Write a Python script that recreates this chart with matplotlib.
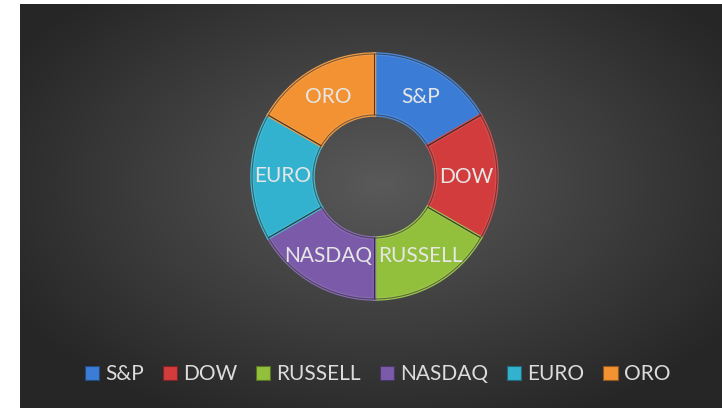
import numpy as np
import matplotlib.pyplot as plt
from matplotlib.colors import to_rgb

labels = ['S&P', 'DOW', 'RUSSELL', 'NASDAQ', 'EURO', 'ORO']
values = [1, 1, 1, 1, 1, 1]
colors = ['#3B7DD6', '#D23C3C', '#93C03C', '#7B5BA9', '#33B2CF', '#F29232']

W, H = 722, 408
fig = plt.figure(figsize=(W / 100, H / 100), dpi=100)
ax = fig.add_axes([0, 0, 1, 1])

# background: soft radial gradient, lighter around the chart
yy, xx = np.mgrid[0:404, 0:702]
cx, cy = 360, 180
d = np.sqrt(((xx - cx) / 420.0) ** 2 + ((yy - cy) / 260.0) ** 2)
g = np.clip(0.35 - 0.20 * d, 0.15, 1)
bg = np.dstack([g, g, g])
ax.imshow(bg, extent=(20, W, 0, 404), origin='upper', zorder=0, interpolation='bilinear')

center = (374.5, H - 176.5)
r_out, ring = 122.5, 61


def lighten(c, f):
    r, g_, b = to_rgb(c)
    return (r + (1 - r) * f, g_ + (1 - g_) * f, b + (1 - b) * f)


def darken(c, f):
    r, g_, b = to_rgb(c)
    return (r * f, g_ * f, b * f)


wedges, texts = ax.pie(values, labels=labels, colors=colors, startangle=90, counterclock=False,
                       center=center, radius=r_out, labeldistance=0.75,
                       wedgeprops=dict(width=ring, linewidth=2.5),
                       textprops=dict(color='#e6e6e6', fontsize=15, family='Lato'))
for w, c in zip(wedges, colors):
    w.set_edgecolor(lighten(c, 0.1))
    w.set_zorder(2)
for t in texts:
    t.set_ha('center')
    t.set_va('center')
    t.set_zorder(5)

# thin dark outline over the bevel
ax.pie(values, startangle=90, counterclock=False, center=center, radius=r_out,
       wedgeprops=dict(width=ring, fill=False, linewidth=0.8,
                       edgecolor=(0.12, 0.12, 0.12, 0.55), zorder=3))

ax.set_xlim(0, W)
ax.set_ylim(0, H)
ax.set_aspect('equal')
ax.axis('off')

handles = [plt.Rectangle((0, 0), 1, 1, facecolor=c, edgecolor=darken(c, 0.6), linewidth=0.8)
           for c in colors]
leg = fig.legend(handles, labels, loc='center', bbox_to_anchor=(377.5 / W, (H - 374) / H),
                 ncol=6, frameon=False, handlelength=0.68, handleheight=0.68,
                 handletextpad=0.3, columnspacing=0.9,
                 prop=dict(family='Lato', size=15))
for t in leg.get_texts():
    t.set_color('#dcdcdc')

fig.savefig('out.png', dpi=100, facecolor='white')
